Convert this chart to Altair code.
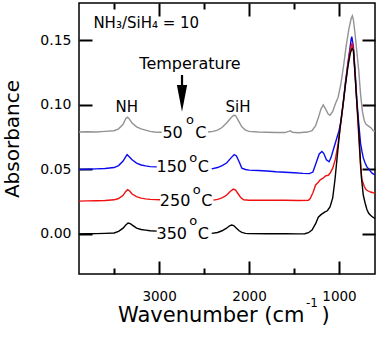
import altair as alt
import pandas as pd

FONT = "DejaVu Sans"
X_DOMAIN = [600, 3890]
Y_DOMAIN = [-0.031, 0.179]

# ---- spectra (wavenumber cm^-1, absorbance) ----
spec_50 = [(3890, 0.0790), (3800, 0.0792), (3700, 0.0790), (3600, 0.0795), (3500, 0.0800),
           (3450, 0.0815), (3400, 0.0850), (3370, 0.0895), (3350, 0.0905), (3330, 0.0890),
           (3300, 0.0860), (3250, 0.0830), (3200, 0.0815), (3150, 0.0805), (3100, 0.0795),
           (3050, 0.0790), (2970, 0.0788),
           (2456, 0.0790), (2400, 0.0795), (2350, 0.0805), (2300, 0.0825), (2250, 0.0860),
           (2200, 0.0900), (2170, 0.0920), (2150, 0.0918), (2120, 0.0880), (2080, 0.0830),
           (2040, 0.0805), (2000, 0.0795), (1900, 0.0790), (1800, 0.0788), (1700, 0.0786),
           (1600, 0.0786), (1560, 0.0795), (1540, 0.0800), (1520, 0.0788), (1450, 0.0785),
           (1350, 0.0790), (1300, 0.0800), (1260, 0.0840), (1230, 0.0900), (1200, 0.0970),
           (1175, 0.1000), (1150, 0.0970), (1120, 0.0930), (1100, 0.0920), (1070, 0.0950),
           (1040, 0.1010), (1010, 0.1060), (980, 0.1160), (950, 0.1300), (920, 0.1460),
           (890, 0.1590), (865, 0.1670), (852, 0.1690), (840, 0.1660), (820, 0.1540),
           (800, 0.1400), (780, 0.1260), (760, 0.1080), (740, 0.0950), (720, 0.0880),
           (700, 0.0850), (680, 0.0840), (660, 0.0830), (640, 0.0820), (620, 0.0800),
           (600, 0.0795)]

spec_150 = [(3890, 0.0500), (3800, 0.0502), (3700, 0.0505), (3600, 0.0508), (3500, 0.0515),
            (3450, 0.0530), (3400, 0.0565), (3370, 0.0600), (3355, 0.0615), (3340, 0.0605),
            (3300, 0.0575), (3250, 0.0550), (3200, 0.0535), (3150, 0.0528), (3100, 0.0522),
            (3026, 0.0520),
            (2415, 0.0505), (2350, 0.0515), (2300, 0.0530), (2250, 0.0550), (2200, 0.0590),
            (2165, 0.0615), (2140, 0.0605), (2110, 0.0560), (2080, 0.0510), (2040, 0.0500),
            (2000, 0.0495), (1900, 0.0492), (1800, 0.0488), (1700, 0.0482), (1600, 0.0478),
            (1500, 0.0475), (1400, 0.0470), (1330, 0.0468), (1290, 0.0480), (1250, 0.0560),
            (1220, 0.0620), (1190, 0.0640), (1170, 0.0625), (1140, 0.0575), (1110, 0.0560),
            (1090, 0.0590), (1060, 0.0660), (1030, 0.0730), (1000, 0.0800), (980, 0.0870),
            (950, 0.1030), (930, 0.1170), (900, 0.1330), (880, 0.1430), (865, 0.1510),
            (858, 0.1530), (840, 0.1450), (820, 0.1250), (800, 0.1020), (780, 0.0850),
            (760, 0.0700), (745, 0.0640), (730, 0.0590), (710, 0.0550), (690, 0.0520),
            (670, 0.0505), (650, 0.0485), (630, 0.0470), (610, 0.0462), (600, 0.0460)]

spec_250 = [(3890, 0.0255), (3800, 0.0257), (3700, 0.0258), (3600, 0.0260), (3500, 0.0265),
            (3450, 0.0275), (3400, 0.0300), (3370, 0.0330), (3350, 0.0343), (3330, 0.0335),
            (3300, 0.0310), (3250, 0.0290), (3200, 0.0278), (3150, 0.0272), (3100, 0.0268),
            (2989, 0.0265),
            (2396, 0.0262), (2350, 0.0268), (2300, 0.0280), (2250, 0.0300), (2210, 0.0330),
            (2175, 0.0348), (2150, 0.0340), (2120, 0.0310), (2090, 0.0280), (2060, 0.0265),
            (2000, 0.0262), (1800, 0.0262), (1600, 0.0262), (1450, 0.0260), (1340, 0.0262),
            (1320, 0.0275), (1290, 0.0320), (1260, 0.0380), (1230, 0.0400), (1210, 0.0420),
            (1180, 0.0430), (1150, 0.0450), (1120, 0.0455), (1100, 0.0470), (1070, 0.0510),
            (1040, 0.0580), (1010, 0.0700), (990, 0.0810), (960, 0.0970), (930, 0.1150),
            (900, 0.1320), (875, 0.1430), (855, 0.1480), (840, 0.1430), (820, 0.1220),
            (800, 0.0990), (780, 0.0750), (760, 0.0520), (745, 0.0420), (720, 0.0370),
            (700, 0.0345), (680, 0.0335), (650, 0.0325), (620, 0.0320), (600, 0.0318)]

spec_350 = [(3890, 0.0000), (3800, 0.0002), (3700, 0.0003), (3600, 0.0005), (3500, 0.0008),
            (3450, 0.0020), (3400, 0.0045), (3370, 0.0070), (3345, 0.0085), (3320, 0.0080),
            (3290, 0.0065), (3250, 0.0045), (3200, 0.0035), (3150, 0.0030), (3100, 0.0025),
            (3026, 0.0022),
            (2415, 0.0005), (2350, 0.0012), (2300, 0.0025), (2250, 0.0045), (2220, 0.0062),
            (2195, 0.0070), (2170, 0.0065), (2140, 0.0045), (2110, 0.0025), (2080, 0.0012),
            (2040, 0.0005), (2000, 0.0003), (1800, 0.0002), (1600, 0.0002), (1450, 0.0001),
            (1380, 0.0002), (1340, 0.0010), (1300, 0.0030), (1260, 0.0080), (1230, 0.0130),
            (1200, 0.0150), (1160, 0.0170), (1130, 0.0180), (1100, 0.0210), (1070, 0.0280),
            (1045, 0.0420), (1020, 0.0600), (990, 0.0810), (960, 0.0980), (930, 0.1150),
            (900, 0.1300), (875, 0.1400), (855, 0.1440), (840, 0.1420), (825, 0.1270),
            (805, 0.1050), (785, 0.0850), (765, 0.0600), (750, 0.0430), (730, 0.0300),
            (710, 0.0240), (690, 0.0190), (670, 0.0160), (650, 0.0145), (620, 0.0128),
            (600, 0.0120)]

series = ["50", "150", "250", "350"]
spectra = [spec_50, spec_150, spec_250, spec_350]
colors = ["#939393", "#0a0af0", "#f01010", "#000000"]
# the trace is interrupted where its label sits (upper wavenumber of the gap)
gap_hi = [2970, 3026, 2989, 3026]

# ---- labels ----
temp_num_wn = [2850, 2859, 2822, 2859]
temp_num_val = [0.0785, 0.0522, 0.0253, 0.0002]
temp_deg_wn = [2656, 2619, 2581, 2619]
temp_deg_val = [0.0886, 0.0589, 0.0343, 0.0098]
temp_c_wn = [2536, 2508, 2470, 2508]
temp_c_val = [0.0785, 0.0519, 0.0253, 0.0002]

peak_labels = ["NH", "SiH"]
peak_wn = [3359, 2122]
peak_val = [0.0986, 0.0986]

x_major = [3000, 2000, 1000]
x_minor = [3500, 2500, 1500]
y_major = [0.0, 0.05, 0.10, 0.15]

W, H = 296, 271
MAJ, MIN = 13, 6

xs = alt.Scale(domain=X_DOMAIN, reverse=True, nice=False, zero=False)
ys = alt.Scale(domain=Y_DOMAIN, nice=False, zero=False)

carrier = pd.DataFrame({"wn": [3000], "val": [0.0]})

def carrier_layer(xaxis, yaxis):
    return alt.Chart(carrier).mark_point(opacity=0).encode(
        x=alt.X("wn:Q", scale=xs, axis=xaxis), y=alt.Y("val:Q", scale=ys, axis=yaxis))

def tick_axis(orient, offset, values, size):
    return alt.Axis(orient=orient, offset=offset, values=values, tickSize=size,
                    tickWidth=2, tickColor="black", ticks=True, labels=False,
                    domain=False, grid=False, title=None)

layers = []

# labelled axes (no ticks)
layers.append(carrier_layer(
    alt.Axis(values=x_major, format="d", ticks=False, tickSize=0, domain=False, grid=False,
             labelFont=FONT, labelFontSize=13.5, labelColor="black", labelPadding=15, title=None),
    alt.Axis(values=y_major, format=".2f", ticks=False, tickSize=0, domain=False, grid=False,
             labelFont=FONT, labelFontSize=14, labelColor="black", labelPadding=8,
             title="Absorbance", titleFont=FONT, titleFontSize=20, titleFontWeight="normal",
             titleColor="black", titlePadding=17)))

# inward ticks: axes moved onto the opposite edge so that their ticks point inside
layers.append(carrier_layer(tick_axis("top", -H, x_major, MAJ), None))     # bottom edge
layers.append(carrier_layer(tick_axis("top", -H, x_minor, MIN), None))
layers.append(carrier_layer(tick_axis("bottom", -H, x_major, MAJ), None))  # top edge
layers.append(carrier_layer(tick_axis("bottom", -H, x_minor, MIN), None))
layers.append(carrier_layer(None, tick_axis("right", -W, y_major, MAJ)))   # left edge
layers.append(carrier_layer(None, tick_axis("left", -W, y_major, MAJ)))    # right edge

for name, spec, col, ghi in zip(series, spectra, colors, gap_hi):
    df = pd.DataFrame(spec, columns=["wn", "val"])
    df["seg"] = ["L" if w >= ghi else "R" for w in df["wn"]]
    layers.append(
        alt.Chart(df).mark_line(color=col, strokeWidth=1.4).encode(
            x=alt.X("wn:Q", scale=xs, axis=None), y=alt.Y("val:Q", scale=ys, axis=None),
            detail="seg:N")
    )

def texts(df, size, align="center", baseline="middle"):
    return alt.Chart(df).mark_text(font=FONT, fontSize=size, color="black",
                                   align=align, baseline=baseline).encode(
        x=alt.X("wn:Q", scale=xs, axis=None), y=alt.Y("val:Q", scale=ys, axis=None),
        text="t:N")

layers.append(texts(pd.DataFrame({"wn": temp_num_wn, "val": temp_num_val, "t": series}), 16))
layers.append(texts(pd.DataFrame({"wn": temp_deg_wn, "val": temp_deg_val, "t": ["o"] * 4}), 13))
layers.append(texts(pd.DataFrame({"wn": temp_c_wn, "val": temp_c_val, "t": ["C"] * 4}), 16))
layers.append(texts(pd.DataFrame({"wn": peak_wn, "val": peak_val, "t": peak_labels}), 15))
layers.append(texts(pd.DataFrame({"wn": [2656], "val": [0.1316], "t": ["Temperature"]}), 16))
layers.append(texts(pd.DataFrame({"wn": [3730], "val": [0.1635], "t": ["NH₃/SiH₄ = 10"]}), 15, align="left"))

# x-axis title with superscript
layers.append(texts(pd.DataFrame({"wn": [3456], "val": [-0.0635], "t": ["Wavenumber (cm"]}), 21, align="left"))
layers.append(texts(pd.DataFrame({"wn": [1300], "val": [-0.0535], "t": ["-1"]}), 12))
layers.append(texts(pd.DataFrame({"wn": [1150], "val": [-0.0635], "t": [")"]}), 21))

# arrow: one symbol = stem + filled head
ARROW_PATH = ("M-0.06,-1L0.06,-1L0.06,-0.45L0.28,-0.45L0,1"
              "L-0.28,-0.45L-0.06,-0.45Z")
head_df = pd.DataFrame({"wn": [2745], "val": [0.1090]})
layers.append(alt.Chart(head_df).mark_point(
    shape=ARROW_PATH, size=1350, filled=True, color="black", opacity=1,
    strokeWidth=0).encode(x=alt.X("wn:Q", scale=xs, axis=None),
                          y=alt.Y("val:Q", scale=ys, axis=None)))

chart = alt.layer(*layers).resolve_axis(x="independent", y="independent").properties(
    width=W, height=H,
    padding={"left": 79, "top": 3, "right": 5, "bottom": 66},
    autosize=alt.AutoSizeParams(type="none"),
    background="white",
).configure_view(stroke="black", strokeWidth=1.5)

chart.save("out.html", embed_options={"renderer": "svg", "actions": False})
